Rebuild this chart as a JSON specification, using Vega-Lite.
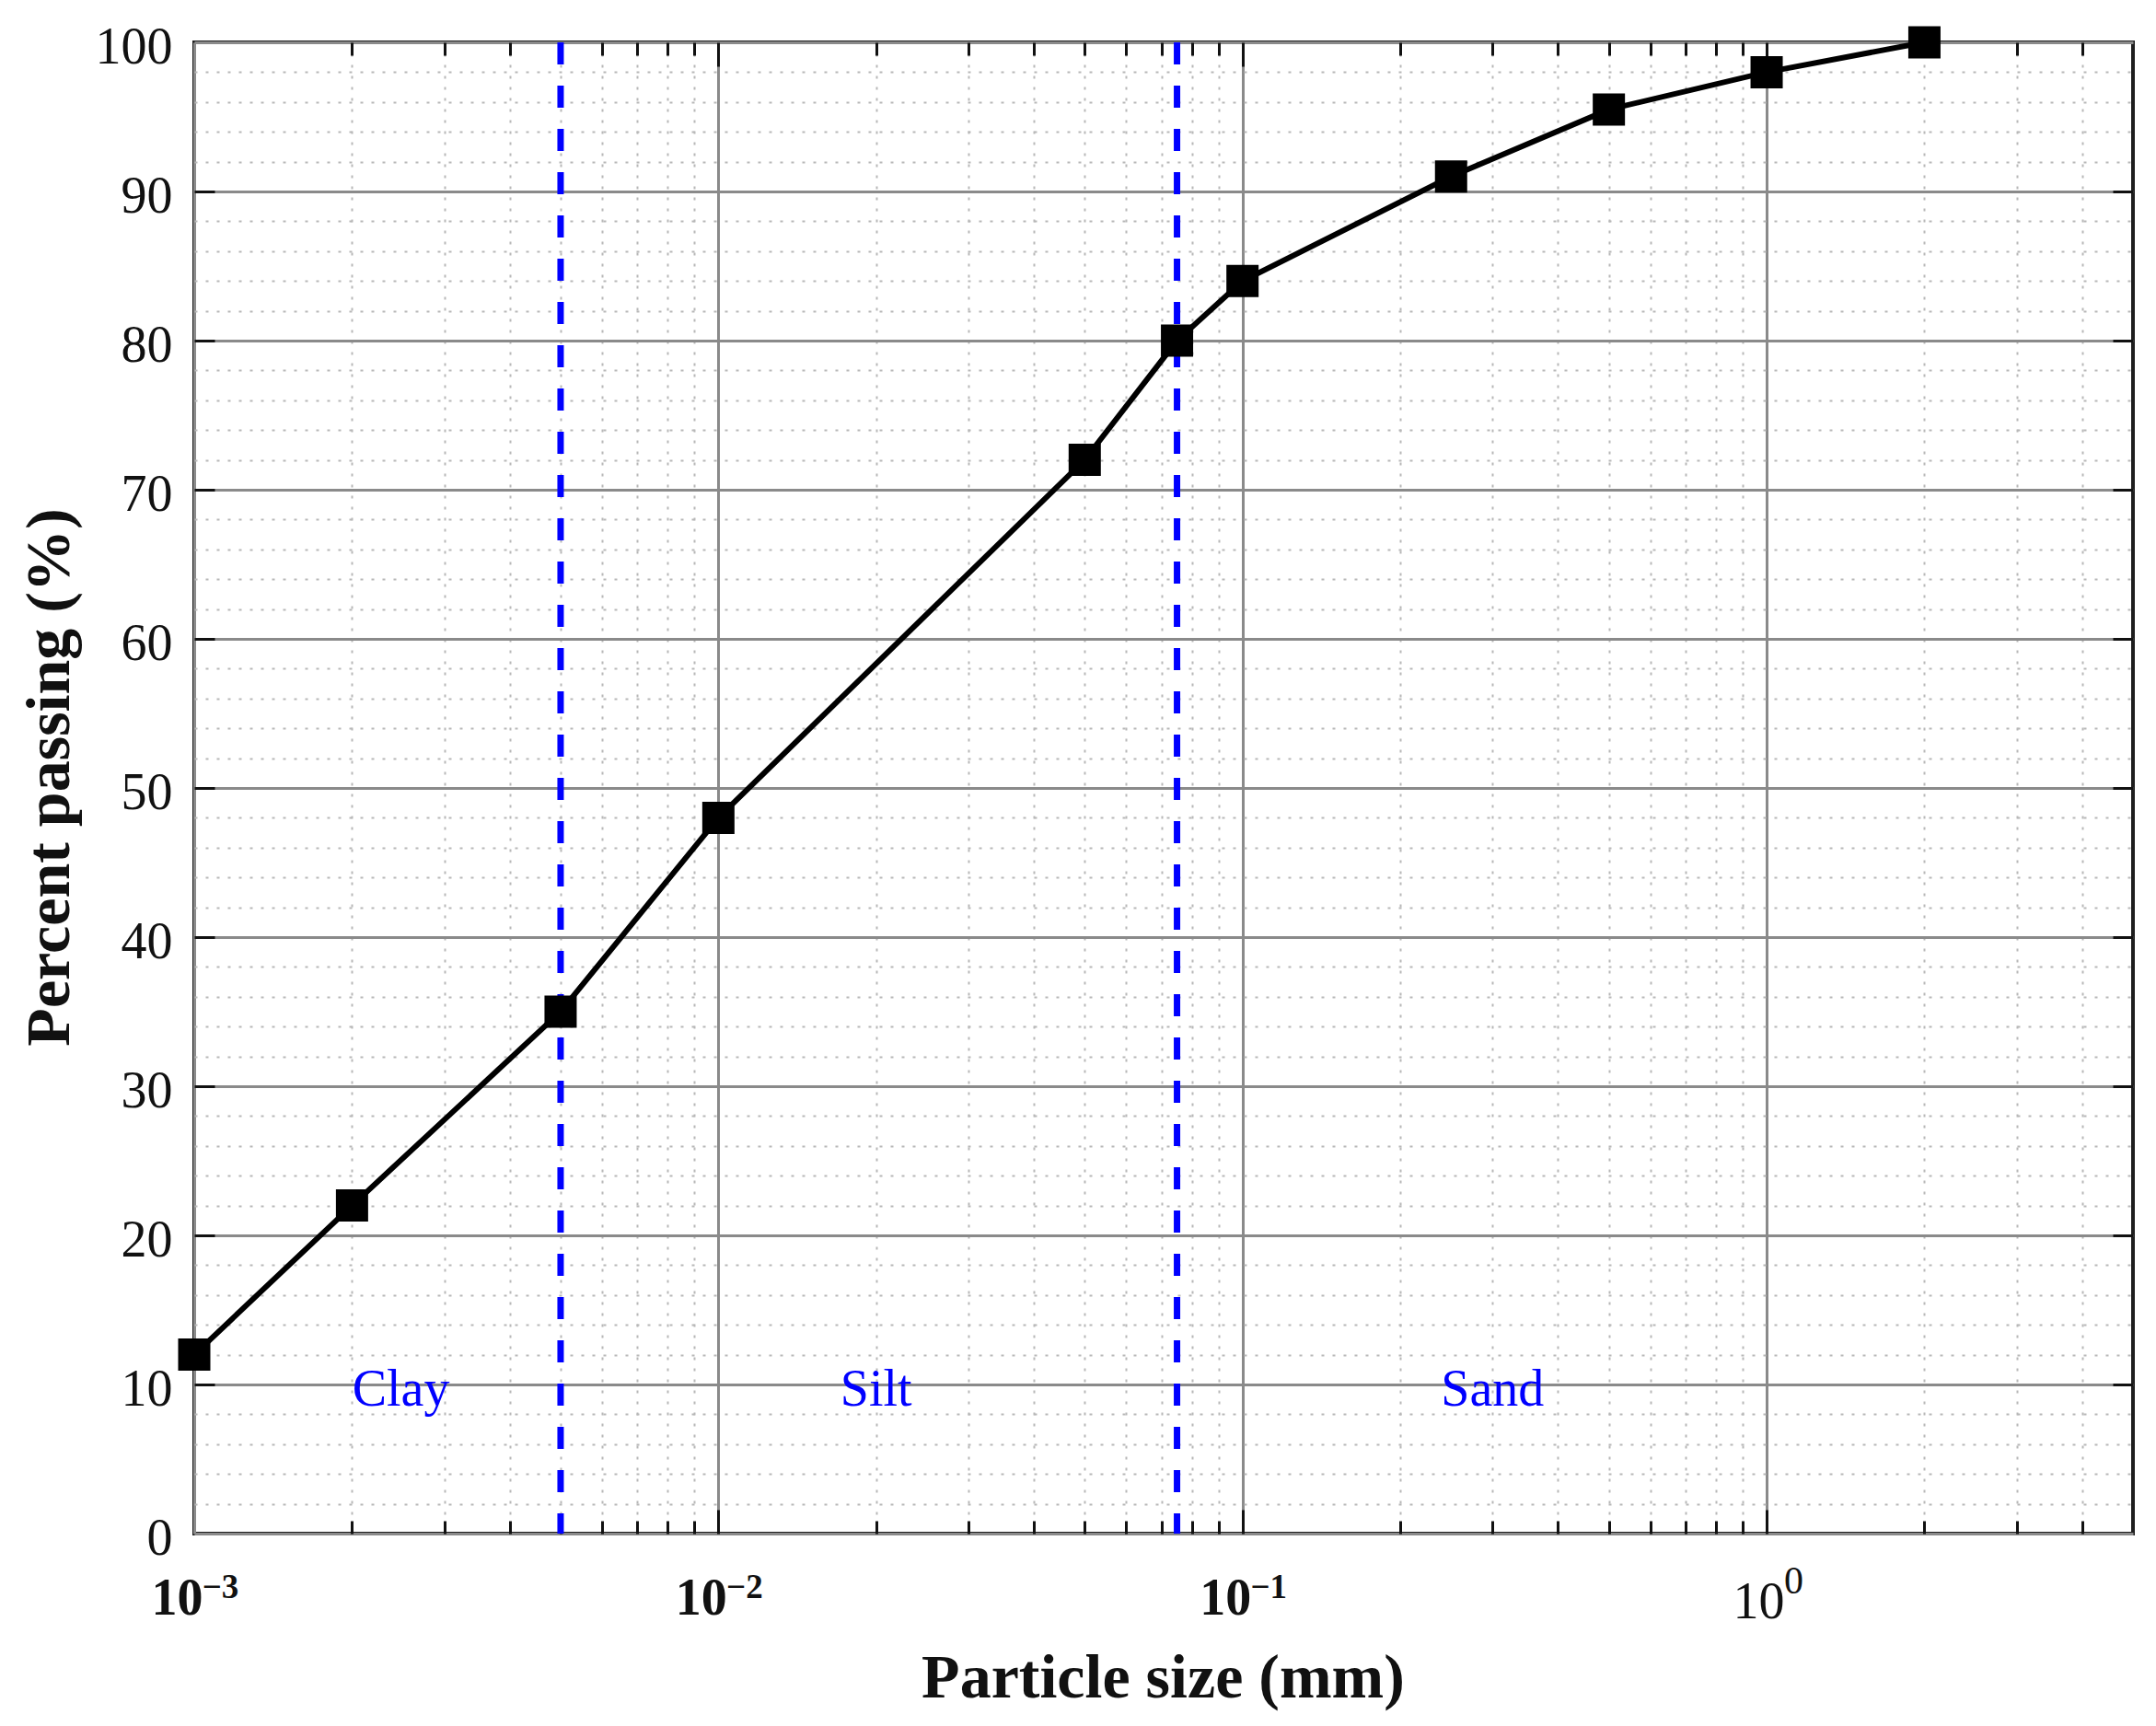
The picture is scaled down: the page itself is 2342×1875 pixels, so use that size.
{
  "$schema": "https://vega.github.io/schema/vega-lite/v6.json",
  "width": 2106,
  "height": 1620,
  "autosize": "none",
  "padding": {"left": 211, "top": 46, "right": 25, "bottom": 209},
  "background": "white",
  "view": {"stroke": "#1e1e1e", "strokeWidth": 4},
  "config": {
    "font": "Liberation Serif",
    "axis": {"labelFont": "Liberation Serif", "titleFont": "Liberation Serif", "labelColor": "#111111", "titleColor": "#111111"}
  },
  "data": {
    "values": [
      {"d": 0.001, "p": 12},
      {"d": 0.002, "p": 22},
      {"d": 0.005, "p": 35},
      {"d": 0.01, "p": 48},
      {"d": 0.05, "p": 72},
      {"d": 0.075, "p": 80},
      {"d": 0.1, "p": 84},
      {"d": 0.25, "p": 91},
      {"d": 0.5, "p": 95.5},
      {"d": 1, "p": 98},
      {"d": 2, "p": 100}
    ]
  },
  "resolve": {"axis": {"x": "independent", "y": "independent"}},
  "layer": [
    {
      "mark": {"type": "point", "opacity": 0},
      "encoding": {
        "x": {"field": "d", "type": "quantitative", "scale": {"type": "log", "domain": [0.001, 5], "nice": false},
          "axis": {"orient": "bottom", "values": [0.002,0.003,0.004,0.005,0.006,0.007,0.008,0.009,0.02,0.03,0.04,0.05,0.06,0.07,0.08,0.09,0.2,0.3,0.4,0.5,0.6,0.7,0.8,0.9,2,3,4],
            "grid": true, "gridColor": "#b8b8b8", "gridDash": [3, 9], "gridWidth": 2,
            "ticks": true, "tickSize": -14, "tickColor": "#111111", "tickWidth": 3,
            "labels": false, "domain": false, "title": null}},
        "y": {"field": "p", "type": "quantitative", "scale": {"domain": [0, 100], "nice": false},
          "axis": {"orient": "left", "values": [2,4,6,8,12,14,16,18,22,24,26,28,32,34,36,38,42,44,46,48,52,54,56,58,62,64,66,68,72,74,76,78,82,84,86,88,92,94,96,98],
            "grid": true, "gridColor": "#b8b8b8", "gridDash": [3, 9], "gridWidth": 2,
            "ticks": false, "labels": false, "domain": false, "title": null}}
      }
    },
    {
      "mark": {"type": "point", "opacity": 0},
      "encoding": {
        "x": {"field": "d", "type": "quantitative", "scale": {"type": "log", "domain": [0.001, 5], "nice": false},
          "axis": {"orient": "bottom", "values": [0.001, 0.01, 0.1, 1],
            "grid": true, "gridColor": "#8a8a8a", "gridWidth": 3,
            "ticks": false, "domain": false,
            "labelExpr": "'10'",
            "labelFontSize": 56,
            "labelFontWeight": {"condition": {"test": "datum.value < 0.5", "value": "bold"}, "value": "normal"},
            "labelOffset": {"condition": {"test": "datum.value > 0.5", "value": -9}, "value": -19},
            "labelBaseline": "alphabetic",
            "labelPadding": {"condition": {"test": "datum.value > 0.5", "value": 91}, "value": 87},
            "labelFlush": false, "labelOverlap": false, "labelBound": false,
            "title": "Particle size (mm)", "titleFontSize": 68, "titleFontWeight": "bold",
            "titleX": 1052, "titleY": 177, "titleBaseline": "alphabetic", "titleAlign": "center", "titleAngle": 0}},
        "y": {"field": "p", "type": "quantitative", "scale": {"domain": [0, 100], "nice": false},
          "axis": {"orient": "left", "values": [0,10,20,30,40,50,60,70,80,90,100],
            "grid": true, "gridColor": "#8a8a8a", "gridWidth": 3,
            "ticks": false, "domain": false,
            "labelFontSize": 56, "labelFontWeight": "normal", "labelPadding": 24, "labelOffset": 5,
            "labelFlush": false, "labelOverlap": false, "labelBound": false,
            "title": "Percent passing (%)", "titleFontSize": 68, "titleFontWeight": "bold",
            "titleX": -123, "titleY": 798, "titleAngle": 270, "titleBaseline": "bottom", "titleAlign": "center"}}
      }
    },
    {
      "mark": {"type": "point", "opacity": 0},
      "encoding": {
        "x": {"field": "d", "type": "quantitative", "scale": {"type": "log", "domain": [0.001, 5], "nice": false},
          "axis": {"orient": "bottom", "values": [0.001, 0.01, 0.1, 1],
            "grid": false, "ticks": false, "domain": false,
            "labelExpr": "datum.value > 0.5 ? '0' : datum.value > 0.05 ? '−1' : datum.value > 0.005 ? '−2' : '−3'",
            "labelFontSize": {"condition": {"test": "datum.value > 0.5", "value": 42}, "value": 37},
            "labelFontWeight": {"condition": {"test": "datum.value < 0.5", "value": "bold"}, "value": "normal"},
            "labelOffset": {"condition": {"test": "datum.value > 0.5", "value": 29}, "value": 28},
            "labelBaseline": "alphabetic",
            "labelPadding": {"condition": {"test": "datum.value > 0.5", "value": 64}, "value": 69},
            "labelFlush": false, "labelOverlap": false, "labelBound": false,
            "title": null}},
        "y": {"field": "p", "type": "quantitative", "scale": {"domain": [0, 100], "nice": false}, "axis": null}
      }
    },
    {
      "mark": {"type": "point", "opacity": 0},
      "encoding": {
        "x": {"field": "d", "type": "quantitative", "scale": {"type": "log", "domain": [0.001, 5], "nice": false},
          "axis": {"orient": "bottom", "values": [0.01, 0.1, 1], "grid": false,
            "ticks": true, "tickSize": -26, "tickColor": "#111111", "tickWidth": 3,
            "labels": false, "domain": false, "title": null}},
        "y": {"field": "p", "type": "quantitative", "scale": {"domain": [0, 100], "nice": false},
          "axis": {"orient": "left", "values": [10,20,30,40,50,60,70,80,90], "grid": false,
            "ticks": true, "tickSize": -22, "tickColor": "#111111", "tickWidth": 3,
            "labels": false, "domain": false, "title": null}}
      }
    },
    {
      "mark": {"type": "point", "opacity": 0},
      "encoding": {
        "x": {"field": "d", "type": "quantitative", "scale": {"type": "log", "domain": [0.001, 5], "nice": false},
          "axis": {"orient": "top", "values": [0.01, 0.1, 1], "grid": false,
            "ticks": true, "tickSize": -26, "tickColor": "#111111", "tickWidth": 3,
            "labels": false, "domain": false, "title": null}},
        "y": {"field": "p", "type": "quantitative", "scale": {"domain": [0, 100], "nice": false},
          "axis": {"orient": "right", "values": [10,20,30,40,50,60,70,80,90], "grid": false,
            "ticks": true, "tickSize": -22, "tickColor": "#111111", "tickWidth": 3,
            "labels": false, "domain": false, "title": null}}
      }
    },
    {
      "mark": {"type": "point", "opacity": 0},
      "encoding": {
        "x": {"field": "d", "type": "quantitative", "scale": {"type": "log", "domain": [0.001, 5], "nice": false},
          "axis": {"orient": "top", "values": [0.002,0.003,0.004,0.005,0.006,0.007,0.008,0.009,0.02,0.03,0.04,0.05,0.06,0.07,0.08,0.09,0.2,0.3,0.4,0.5,0.6,0.7,0.8,0.9,2,3,4],
            "grid": false, "ticks": true, "tickSize": -14, "tickColor": "#111111", "tickWidth": 3,
            "labels": false, "domain": false, "title": null}},
        "y": {"field": "p", "type": "quantitative", "scale": {"domain": [0, 100], "nice": false}, "axis": null}
      }
    },
    {
      "data": {"values": [{"b": 0.005}, {"b": 0.075}]},
      "mark": {"type": "rule", "color": "#0000ff", "strokeWidth": 7, "strokeDash": [24, 23]},
      "encoding": {
        "x": {"field": "b", "type": "quantitative", "scale": {"type": "log", "domain": [0.001, 5], "nice": false}, "axis": null}
      }
    },
    {
      "mark": {"type": "line", "color": "#000000", "strokeWidth": 6},
      "encoding": {
        "x": {"field": "d", "type": "quantitative", "scale": {"type": "log", "domain": [0.001, 5], "nice": false}, "axis": null},
        "y": {"field": "p", "type": "quantitative", "scale": {"domain": [0, 100], "nice": false}, "axis": null}
      }
    },
    {
      "mark": {"type": "point", "shape": "square", "filled": true, "color": "#000000", "opacity": 1, "size": 1225},
      "encoding": {
        "x": {"field": "d", "type": "quantitative", "scale": {"type": "log", "domain": [0.001, 5], "nice": false}, "axis": null},
        "y": {"field": "p", "type": "quantitative", "scale": {"domain": [0, 100], "nice": false}, "axis": null}
      }
    },
    {
      "data": {"values": [{"t": "Clay", "d": 0.00248, "p": 10}, {"t": "Silt", "d": 0.02, "p": 10}, {"t": "Sand", "d": 0.3, "p": 10}]},
      "mark": {"type": "text", "color": "#0000ff", "font": "Liberation Serif", "fontSize": 56, "align": "center", "baseline": "middle", "dy": 6},
      "encoding": {
        "x": {"field": "d", "type": "quantitative", "scale": {"type": "log", "domain": [0.001, 5], "nice": false}, "axis": null},
        "y": {"field": "p", "type": "quantitative", "scale": {"domain": [0, 100], "nice": false}, "axis": null},
        "text": {"field": "t"}
      }
    }
  ]
}
